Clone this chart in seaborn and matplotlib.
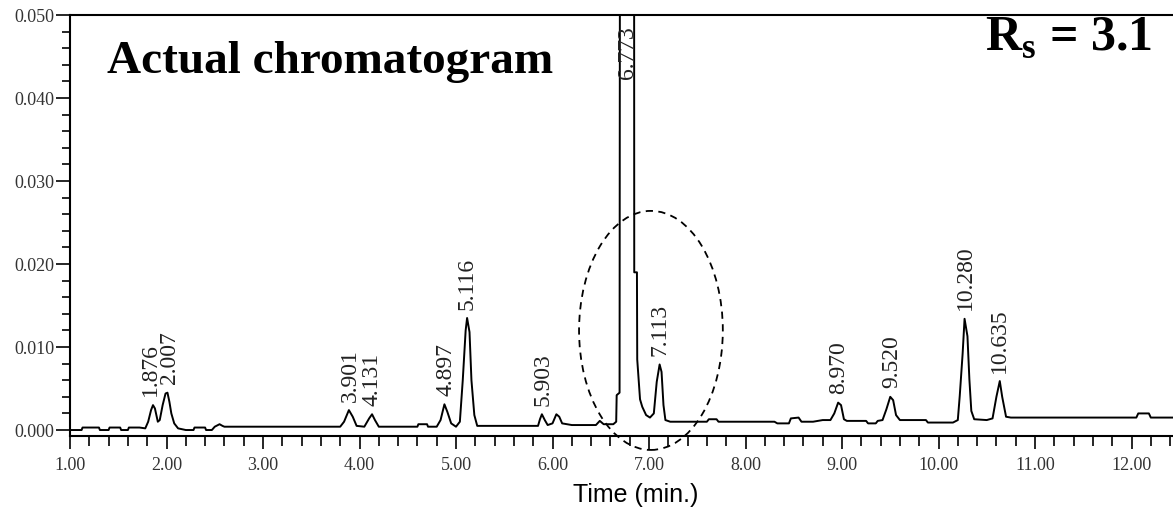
import matplotlib
matplotlib.use("Agg")
import matplotlib.pyplot as plt
from matplotlib.ticker import MultipleLocator, FormatStrFormatter
from matplotlib.patches import Ellipse
import seaborn as sns
import pandas as pd

trace_time = [1.00, 1.12, 1.13, 1.30, 1.31, 1.40, 1.41, 1.52, 1.53, 1.60, 1.61, 1.72,
              1.78, 1.81, 1.84, 1.86, 1.88, 1.91, 1.93, 1.96, 1.99, 2.01, 2.03, 2.05,
              2.08, 2.12, 2.20, 2.28, 2.29, 2.40, 2.41, 2.47, 2.50, 2.55, 2.58, 2.60,
              3.80, 3.84, 3.89, 3.93, 3.97, 4.05, 4.10, 4.13, 4.16, 4.20, 4.60, 4.61,
              4.70, 4.71, 4.80, 4.84, 4.88, 4.91, 4.95, 5.00, 5.04, 5.07, 5.10, 5.115,
              5.14, 5.16, 5.19, 5.22, 5.85, 5.87, 5.89, 5.92, 5.95, 6.00, 6.04, 6.07,
              6.10, 6.20, 6.45, 6.49, 6.53, 6.63, 6.66, 6.665, 6.695, 6.70, 6.845, 6.847,
              6.875, 6.878, 6.907, 6.93, 6.97, 7.01, 7.05, 7.08, 7.11, 7.13, 7.15, 7.17,
              7.22, 7.60, 7.62, 7.70, 7.72, 8.30, 8.33, 8.45, 8.47, 8.55, 8.58, 8.70,
              8.80, 8.88, 8.92, 8.96, 8.99, 9.02, 9.05, 9.25, 9.27, 9.35, 9.37, 9.42,
              9.46, 9.50, 9.53, 9.56, 9.60, 9.87, 9.89, 10.15, 10.20, 10.22, 10.25, 10.27,
              10.30, 10.32, 10.34, 10.37, 10.50, 10.56, 10.60, 10.635, 10.66, 10.70, 10.75, 12.05,
              12.07, 12.18, 12.20, 12.45]
trace_signal = [0.0000, 0.0000, 0.0003, 0.0003, 0.0000, 0.0000, 0.0003, 0.0003, 0.0000, 0.0000, 0.0003, 0.0003,
                0.0002, 0.0010, 0.0024, 0.0030, 0.0026, 0.0010, 0.0012, 0.0030, 0.0044, 0.0045, 0.0034, 0.0020,
                0.0008, 0.0002, 0.0000, 0.0000, 0.0003, 0.0003, 0.0000, 0.0000, 0.0004, 0.0007, 0.0005, 0.0004,
                0.0004, 0.0010, 0.0024, 0.0016, 0.0005, 0.0004, 0.0014, 0.0019, 0.0012, 0.0004, 0.0004, 0.0007,
                0.0007, 0.0004, 0.0004, 0.0012, 0.0031, 0.0022, 0.0008, 0.0004, 0.0010, 0.0060, 0.0120, 0.0135,
                0.0118, 0.0060, 0.0018, 0.0005, 0.0005, 0.0013, 0.0019, 0.0012, 0.0006, 0.0008, 0.0019, 0.0016,
                0.0008, 0.0006, 0.0006, 0.0011, 0.0007, 0.0007, 0.0010, 0.0042, 0.0045, 0.0800, 0.0800, 0.0190,
                0.0190, 0.0085, 0.0037, 0.0028, 0.0018, 0.0015, 0.0020, 0.0058, 0.0079, 0.0070, 0.0030, 0.0012,
                0.0010, 0.0010, 0.0013, 0.0013, 0.0010, 0.0010, 0.0008, 0.0008, 0.0014, 0.0015, 0.0010, 0.0010,
                0.0012, 0.0012, 0.0020, 0.0033, 0.0030, 0.0013, 0.0011, 0.0011, 0.0008, 0.0008, 0.0011, 0.0012,
                0.0025, 0.0040, 0.0036, 0.0018, 0.0012, 0.0012, 0.0009, 0.0009, 0.0012, 0.0041, 0.0092, 0.0134,
                0.0113, 0.0061, 0.0023, 0.0013, 0.0012, 0.0014, 0.0040, 0.0059, 0.0040, 0.0016, 0.0015, 0.0015,
                0.0020, 0.0020, 0.0015, 0.0015]

# ---- peak table (retention time labels and apex heights) ----
peak_labels = ["1.876", "2.007", "3.901", "4.131", "4.897", "5.116", "5.903",
               "6.773", "7.113", "8.970", "9.520", "10.280", "10.635"]
peak_times = [1.876, 2.007, 3.901, 4.131, 4.897, 5.116, 5.903,
              6.773, 7.113, 8.970, 9.520, 10.280, 10.635]
peak_heights = [0.0031, 0.0046, 0.0024, 0.0019, 0.0031, 0.0135, 0.0019,
                0.0800, 0.0079, 0.0033, 0.0040, 0.0134, 0.0059]

x_ticks = [1, 2, 3, 4, 5, 6, 7, 8, 9, 10, 11, 12]
y_ticks = [0.000, 0.010, 0.020, 0.030, 0.040, 0.050]

title_text = "Actual chromatogram"
xlabel_text = "Time (min.)"

sns.set_style("ticks")
plt.rcParams['font.family'] = ['Liberation Serif', 'DejaVu Serif']
plt.rcParams['mathtext.fontset'] = 'custom'
plt.rcParams['mathtext.rm'] = 'Liberation Serif:bold'
plt.rcParams['mathtext.bf'] = 'Liberation Serif:bold'

W, H = 1173, 508
fig = plt.figure(figsize=(W / 100, H / 100), dpi=100)
ax = fig.add_axes([70 / W, 1 - 436 / H, 1 - 70 / W, (436 - 15) / H])

df = pd.DataFrame({"time": trace_time, "signal": trace_signal})
sns.lineplot(data=df, x="time", y="signal", ax=ax, color="black", linewidth=1.4,
             estimator=None, sort=False)

ax.set_xlim(1.0, 12.43)
ax.set_ylim(-0.00072, 0.050)
ax.set_xticks(x_ticks)
ax.set_yticks(y_ticks)
ax.xaxis.set_major_formatter(FormatStrFormatter('%.2f'))
ax.yaxis.set_major_formatter(FormatStrFormatter('%.3f'))
ax.xaxis.set_minor_locator(MultipleLocator(0.2))
ax.yaxis.set_minor_locator(MultipleLocator(0.002))
ax.tick_params(axis='x', which='major', length=9, width=1.4, pad=6, labelsize=13,
               labelcolor='#333333', direction='out')
ax.tick_params(axis='x', which='minor', length=7, width=1.4, direction='out')
ax.tick_params(axis='y', which='major', length=10, width=1.4, pad=1, labelsize=13,
               labelcolor='#333333', direction='out')
ax.tick_params(axis='y', which='minor', length=6, width=1.4, direction='out')
ax.set_xlabel("")
ax.set_ylabel("")
for s in ['top', 'left', 'bottom']:
    ax.spines[s].set_linewidth(1.5)
    ax.spines[s].set_color('black')
ax.spines['right'].set_visible(False)

# peak retention time labels
n = len(peak_times)
for i, (lab, t, h) in enumerate(zip(peak_labels, peak_times, peak_heights)):
    dx = 0
    if i + 1 < n and peak_times[i + 1] - t < 0.2:
        dx = -3
    elif i > 0 and t - peak_times[i - 1] < 0.2:
        dx = 2
    if h > 0.05:
        ax.annotate(lab, xy=(t, 0.050), xytext=(dx, -8), textcoords='offset points',
                    rotation=90, ha='center', va='top', fontsize=17, color='#222222')
    else:
        ax.annotate(lab, xy=(t, h), xytext=(dx, 6), textcoords='offset points',
                    rotation=90, ha='center', va='bottom', fontsize=17, color='#222222')

# dashed ellipse around the resolved pair
ell = Ellipse((7.02, 0.0120), width=1.49, height=0.0288, fill=False,
              edgecolor='black', linewidth=1.3, linestyle=(0, (4, 3)), clip_on=False)
ax.add_patch(ell)

fig.text(107 / W, 1 - 73 / H, title_text, fontsize=34, fontweight='bold',
         ha='left', va='baseline', color='black')
fig.text(985 / W, 1 - 50 / H, r"R$_{\mathbf{s}}$ = 3.1", fontsize=36, fontweight='bold',
         ha='left', va='baseline', color='black')
fig.text(636 / W, 1 - 502 / H, xlabel_text, fontsize=18, family=['Liberation Sans', 'DejaVu Sans'],
         ha='center', va='baseline', color='black')

fig.savefig("out.png", dpi=100)
